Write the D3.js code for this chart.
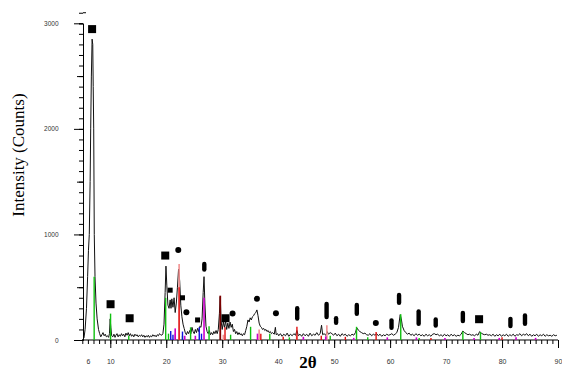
<!DOCTYPE html>
<html><head><meta charset="utf-8">
<script src="https://cdn.jsdelivr.net/npm/d3@7"></script>
<style>body{margin:0;background:#fff}svg{display:block}</style>
</head><body><svg id="c" width="562" height="372"></svg>
<script>
// measured XRD scan: [2θ, counts]
const scanLow = [[5.0,0],[5.3,20],[5.5,100],[5.75,300],[5.95,600],[6.1,850],[6.25,1000],[6.4,1500],[6.5,2000],[6.62,2500],[6.75,2850],[6.87,2800],[6.95,2400],[7.04,2000],[7.14,1000],[7.27,600],[7.45,350],[7.65,200],[7.9,100],[8.1,60],[8.3,30],[8.5,50],[8.7,70],[8.9,40],[9.1,55],[9.3,30],[9.5,40],[9.7,25],[9.85,60],[9.98,200],[10.1,120],[10.25,40],[10.45,30],[10.65,55],[10.85,25],[11.0,45],[11.2,60],[11.4,30],[11.6,50],[11.8,35],[12.0,60],[12.2,40],[12.4,55],[12.6,30],[12.8,65],[13.0,45],[13.2,70],[13.4,40],[13.6,60],[13.8,35],[14.0,50],[14.2,30],[14.4,55],[14.6,40],[14.8,50],[15.0,30],[15.2,45],[15.4,35],[15.6,50],[15.8,30],[16.0,45],[16.2,25],[16.4,40],[16.6,30],[16.8,45],[17.0,25],[17.2,40],[17.4,30],[17.6,50],[17.8,35],[18.0,45],[18.2,30],[18.4,50],[18.6,40],[18.8,60],[19.0,50]];
const scanMid = [[19.2,45],[19.4,60],[19.6,150],[19.8,450],[19.95,700],[20.1,520],[20.3,330],[20.5,300],[20.7,380],[20.85,300],[21.0,390],[21.2,310],[21.4,400],[21.6,260],[21.8,350],[22.0,500],[22.2,670],[22.4,560],[22.6,330],[22.8,220],[23.0,150],[23.2,110],[23.4,70],[23.6,50],[23.8,80],[24.0,60],[24.2,90],[24.4,60],[24.6,120],[24.8,80],[25.0,60],[25.2,100],[25.4,70],[25.6,110],[25.8,80],[26.0,130],[26.2,120],[26.4,200],[26.6,450],[26.75,600],[26.9,350],[27.1,130],[27.3,80],[27.5,60],[27.7,90],[27.9,50],[28.1,70],[28.3,50],[28.5,80],[28.7,60],[28.9,90],[29.1,60],[29.3,100],[29.5,250],[29.65,410],[29.8,180],[30.0,100],[30.2,170],[30.4,120],[30.6,180],[30.8,100],[31.0,160],[31.2,110],[31.4,170],[31.6,120],[31.8,150],[32.0,80],[32.2,100],[32.4,60],[32.6,80],[32.8,50],[33.0,70],[33.2,50],[33.4,60],[33.6,40],[33.8,60],[34.0,50],[34.2,90],[34.4,130],[34.6,190],[34.8,170],[35.0,210],[35.2,190],[35.4,220],[35.6,230],[35.8,250],[36.0,260],[36.2,285],[36.4,230],[36.6,160],[36.8,130],[37.0,120],[37.2,100],[37.4,110],[37.6,90],[37.8,100],[38.0,80],[38.2,90],[38.4,70],[38.6,80],[38.8,60],[39.0,70],[39.3,55],[39.5,120],[39.65,50],[39.9,60]];
const scanHigh = [[40.1,40],[40.4,60],[40.7,35],[41.0,55],[41.3,40],[41.6,65],[41.9,35],[42.2,55],[42.5,40],[42.8,60],[43.1,45],[43.35,90],[43.6,40],[43.9,55],[44.2,35],[44.5,60],[44.8,40],[45.1,55],[45.4,35],[45.7,65],[46.0,40],[46.3,55],[46.6,45],[46.9,70],[47.2,45],[47.5,60],[47.75,140],[47.95,50],[48.2,60],[48.5,45],[48.75,80],[49.0,55],[49.3,70],[49.6,60],[49.9,45],[50.2,65],[50.5,40],[50.8,55],[51.1,35],[51.4,60],[51.7,45],[52.0,55],[52.3,35],[52.6,50],[52.9,40],[53.2,55],[53.5,45],[53.8,70],[54.05,115],[54.3,95],[54.6,80],[54.9,70],[55.2,60],[55.5,65],[55.8,50],[56.1,45],[56.4,60],[56.7,40],[57.0,55],[57.3,45],[57.6,60],[57.9,40],[58.2,55],[58.5,35],[58.8,50],[59.1,40],[59.4,55],[59.7,45],[60.0,50],[60.3,60],[60.6,45],[60.9,55],[61.2,70],[61.5,120],[61.8,240],[62.0,200],[62.2,130],[62.5,90],[62.8,70],[63.1,55],[63.4,65],[63.7,45],[64.0,55],[64.3,40],[64.6,60],[64.9,45],[65.2,55],[65.5,40],[65.8,50],[66.1,35],[66.4,55],[66.7,40],[67.0,50],[67.3,35],[67.6,55],[67.9,60],[68.2,50],[68.5,55],[68.8,40],[69.1,50],[69.4,35],[69.7,55],[70.0,40],[70.3,50],[70.6,35],[70.9,55],[71.2,40],[71.5,50],[71.8,35],[72.1,45],[72.4,40],[72.7,55],[73.0,85],[73.3,70],[73.6,60],[73.9,50],[74.2,55],[74.5,45],[74.8,50],[75.1,40],[75.4,55],[75.7,45],[76.0,80],[76.3,65],[76.6,55],[76.9,50],[77.2,55],[77.5,45],[77.8,50],[78.1,40],[78.4,55],[78.7,35],[79.0,50],[79.3,40],[79.6,55],[79.9,35],[80.2,50],[80.5,40],[80.8,55],[81.1,35],[81.4,50],[81.7,40],[82.0,55],[82.3,35],[82.6,50],[82.9,45],[83.2,60],[83.5,40],[83.8,55],[84.1,45],[84.4,60],[84.7,40],[85.0,55],[85.3,35],[85.6,50],[85.9,40],[86.2,55],[86.5,35],[86.8,50],[87.1,40],[87.4,55],[87.7,35],[88.0,50],[88.3,40],[88.6,45],[88.9,35],[89.2,50],[89.5,40],[89.8,45]];

// reference phase sticks: [2θ, counts]
const greenSticks = [[7.12,600],[10.05,250],[13.3,40],[19.9,400],[20.4,60],[22.9,40],[24.35,120],[27.65,130],[31.5,50],[35.07,125],[38.5,60],[42.0,25],[49.3,40],[54.0,125],[56.0,25],[61.9,245],[65.2,20],[73.0,80],[76.15,75]];
const salmonSticks = [[21.6,60],[22.3,720],[30.2,50],[36.6,100],[43.3,40],[48.7,140]];
const redSticks = [[22.3,500],[30.5,120],[36.9,60],[40.9,30],[43.35,125],[47.7,40],[52.0,30],[57.5,75],[67.3,20],[80.0,25]];
const darkRedSticks = [[29.65,420]];
const magentaSticks = [[21.6,110],[23.3,40],[25.2,40],[26.75,400],[36.3,60],[44.5,30],[48.5,35],[53.5,20],[59.5,25],[64.7,25],[69.8,20],[75.0,20],[79.5,20],[82.5,25],[86.0,20]];
const blueSticks = [[20.8,85],[21.2,50],[22.9,80],[25.9,120],[26.3,60]];

// phase markers: [2θ, counts]
const bigSquares = [[6.75,2945],[10.05,339],[13.46,206],[19.82,800],[30.6,206],[75.9,197]];
const smallSquares = [[20.7,472],[22.9,400],[25.6,190]];
const circles = [[22.15,852],[23.6,263],[31.85,250],[36.2,390],[39.6,253],[57.45,161]];
const bars = [[26.8,741,647],[43.4,322,183],[48.65,363,196],[50.35,227,142],[54.05,353,227],[60.25,205,95],[61.6,448,331],[65.1,291,133],[68.15,215,116],[73.0,277,158],[81.5,221,111],[84.1,253,133]];

const xTickLabels = [6,10,20,30,40,50,60,70,80,90];
const yTickLabels = [0,1000,2000,3000];

const svg = d3.select("#c");
const x = d3.scaleLinear().domain([5,90]).range([82.3,558]);
const y = d3.scaleLinear().domain([0,3000]).range([340,23.3]);

// axes
const yMinor = d3.axisLeft(y).tickValues(d3.range(0,3101,100)).tickSize(4).tickFormat("");
const yMid = d3.axisLeft(y).tickValues([500,1500,2500]).tickSize(6).tickFormat("");
const yMajor = d3.axisLeft(y).tickValues(yTickLabels).tickSize(9).tickPadding(15.5).tickFormat(d3.format("d"));
const gy = svg.append("g").attr("transform","translate(83,0)");
gy.append("g").call(yMinor);
gy.append("g").call(yMid).call(g=>g.select(".domain").remove());
gy.append("g").call(yMajor).call(g=>g.select(".domain").remove());
gy.selectAll("text").attr("font-family","Liberation Sans, Arial, sans-serif").attr("font-size","6.5px").attr("fill","#333");
gy.selectAll("line,path").attr("stroke","#000");
gy.append("line").attr("x1",0).attr("x2",3).attr("y1",y(3100)).attr("y2",y(3100)).attr("stroke","#000");

const gx = svg.append("g").attr("transform","translate(0,340)");
gx.append("g").call(d3.axisBottom(x).tickValues(d3.range(5,91,1)).tickSize(4).tickFormat("").tickSizeOuter(0));
gx.append("g").call(d3.axisBottom(x).tickValues(d3.range(10,91,10)).tickSize(8).tickFormat("")).call(g=>g.select(".domain").remove());
gx.append("g").call(d3.axisBottom(x).tickValues(xTickLabels).tickSize(0).tickPadding(19).tickFormat(d3.format("d"))).call(g=>g.select(".domain").remove());
gx.selectAll("text").attr("font-family","Liberation Sans, Arial, sans-serif").attr("font-size","7px").attr("fill","#333");
gx.selectAll("line,path").attr("stroke","#000");
gx.select(".domain").attr("d",`M83,0H558`);

// scan line
const scan = scanLow.concat(scanMid, scanHigh);
svg.append("path").datum(scan)
  .attr("d", d3.line().x(d=>x(d[0])).y(d=>y(d[1])))
  .attr("fill","none").attr("stroke","#111").attr("stroke-width",1).attr("stroke-linejoin","round");

// sticks
function sticks(data, color, w){
  svg.append("g").selectAll("line").data(data).join("line")
    .attr("x1",d=>x(d[0])).attr("x2",d=>x(d[0]))
    .attr("y1",y(0)).attr("y2",d=>y(d[1]))
    .attr("stroke",color).attr("stroke-width",w);
}
sticks(salmonSticks,"#f29090",1.6);
sticks(redSticks,"#e01010",1.4);
sticks(darkRedSticks,"#7a0000",1.8);
sticks(greenSticks,"#10c010",1.4);
sticks(magentaSticks,"#cc00cc",1.6);
sticks(blueSticks,"#1010e0",1.4);

// markers
svg.append("g").selectAll("rect").data(bigSquares).join("rect")
  .attr("x",d=>x(d[0])-4).attr("y",d=>y(d[1])-4).attr("width",8).attr("height",8).attr("fill","#000");
svg.append("g").selectAll("rect").data(smallSquares).join("rect")
  .attr("x",d=>x(d[0])-2.5).attr("y",d=>y(d[1])-2.5).attr("width",5).attr("height",5).attr("fill","#000");
svg.append("g").selectAll("circle").data(circles).join("circle")
  .attr("cx",d=>x(d[0])).attr("cy",d=>y(d[1])).attr("r",3).attr("fill","#000");
svg.append("g").selectAll("rect").data(bars).join("rect")
  .attr("x",d=>x(d[0])-2.2).attr("y",d=>y(d[1])).attr("width",4.4)
  .attr("height",d=>y(d[2])-y(d[1])).attr("rx",2.2).attr("fill","#000");

// axis titles
svg.append("text").attr("transform","translate(23.5,155) rotate(-90)")
  .attr("text-anchor","middle").attr("font-family","Liberation Serif, Times New Roman, serif")
  .attr("font-size","17px").attr("fill","#000").text("Intensity (Counts)");
svg.append("text").attr("x",308).attr("y",367.5).attr("text-anchor","middle")
  .attr("font-family","Liberation Serif, Times New Roman, serif").attr("font-weight","bold")
  .attr("font-size","17px").attr("fill","#000").text("2θ");
</script></body></html>
